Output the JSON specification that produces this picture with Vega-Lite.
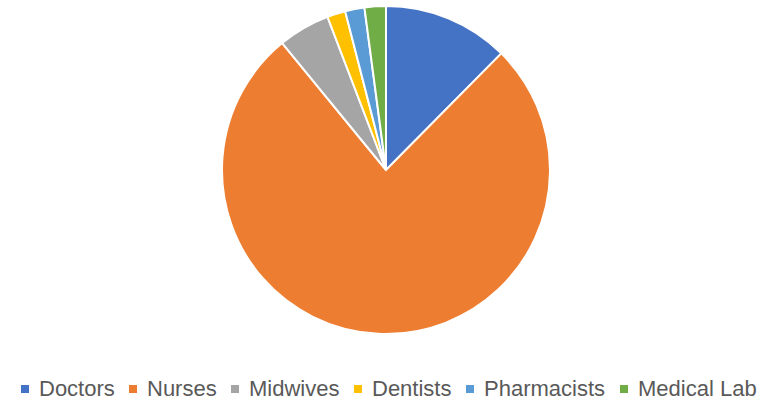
{
  "$schema": "https://vega.github.io/schema/vega-lite/v6.json",
  "width": 772,
  "height": 340,
  "padding": {"left": 0, "top": 0, "right": 0, "bottom": 0},
  "background": "white",
  "data": {"values": [
    {"category": "Doctors", "share": 12.4, "idx": 1},
    {"category": "Nurses", "share": 76.6, "idx": 2},
    {"category": "Midwives", "share": 5.1, "idx": 3},
    {"category": "Dentists", "share": 1.8, "idx": 4},
    {"category": "Pharmacists", "share": 1.9, "idx": 5},
    {"category": "Medical Lab", "share": 2.1, "idx": 6}
  ]},
  "mark": {"type": "arc", "outerRadius": 164, "stroke": "white", "strokeWidth": 2},
  "encoding": {
    "theta": {"field": "share", "type": "quantitative", "stack": true},
    "order": {"field": "idx", "type": "quantitative"},
    "color": {
      "field": "category", "type": "nominal",
      "scale": {
        "domain": ["Doctors", "Nurses", "Midwives", "Dentists", "Pharmacists", "Medical Lab"],
        "range": ["#4472C4", "#ED7D31", "#A5A5A5", "#FFC000", "#5B9BD5", "#70AD47"]
      },
      "legend": {
        "title": null,
        "orient": "none",
        "legendX": 14,
        "legendY": 378,
        "direction": "horizontal",
        "symbolType": "square",
        "symbolSize": 64,
        "symbolStrokeWidth": 0,
        "labelFont": "Liberation Sans",
        "labelFontSize": 22,
        "labelColor": "#595959",
        "labelOffset": 3,
        "columnPadding": 7,
        "labelLimit": 300
      }
    }
  },
  "config": {
    "view": {"stroke": null}
  }
}
